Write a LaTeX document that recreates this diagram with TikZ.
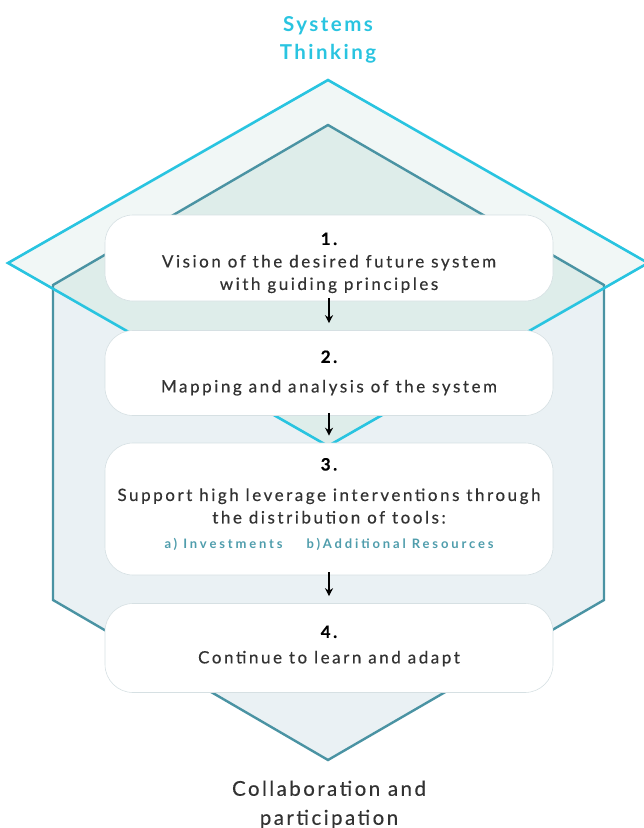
\documentclass[tikz,border=0pt]{standalone}
\usepackage{fontspec}
\setmainfont{Lato}
\usetikzlibrary{arrows.meta,positioning}
\newcommand{\stepnum}[1]{{\bfseries\color{black}#1}}

\begin{document}
\begin{tikzpicture}[x=1pt,y=-1pt]

% ------------------------------------------------ systems theme colors
\definecolor{st_cyan}{RGB}{41,196,224}    %#29C4E0
\definecolor{st_teal}{RGB}{74,147,163}    %#4A93A3
\definecolor{st_pale}{RGB}{241,247,246}   %#F1F7F6
\definecolor{st_house}{RGB}{234,241,244}  %#EAF1F4
\definecolor{st_mix}{RGB}{222,237,234}    %#DEEDEA
\definecolor{st_edge}{RGB}{214,224,227}   %#D6E0E3
\definecolor{st_text}{RGB}{50,50,50}      %#323232
\definecolor{st_sub}{RGB}{79,157,172}     %#4F9DAC

\tikzset{
  stepbox/.style={draw=st_edge,line width=0.6pt,fill=white,rounded corners=28pt,
    minimum width=448pt,inner sep=0pt,align=center,text=st_text,
    font=\fontsize{17}{22.5}\selectfont\addfontfeatures{LetterSpace=15,FakeBold=0.4}},
  flow/.style={line width=1.1pt,-{Stealth[length=8pt,width=8pt]},shorten <=-3pt,shorten >=7pt}
}

\useasboundingbox (0,0) rectangle (644,828);

% diamond and house
\fill[st_pale] (328,80) -- (8,263) -- (328,446) -- (648,263) -- cycle;
\fill[st_house] (328,125) -- (53,285) -- (53,600) -- (328,760) -- (604,600) -- (604,285) -- cycle;
\begin{scope}
  \clip (328,125) -- (53,285) -- (53,600) -- (328,760) -- (604,600) -- (604,285) -- cycle;
  \fill[st_mix] (328,80) -- (8,263) -- (328,446) -- (648,263) -- cycle;
\end{scope}
\draw[st_teal,line width=2.4pt,line join=miter] (328,125) -- (53,285) -- (53,600) -- (328,760) -- (604,600) -- (604,285) -- cycle;
\draw[st_cyan,line width=2.6pt,line join=miter] (328,80) -- (8,263) -- (328,446) -- (648,263) -- cycle;

% titles
\node[text=st_cyan,align=center,font=\fontsize{20.5}{28}\selectfont\bfseries\addfontfeatures{LetterSpace=12}] (sys) at (328,39.5) {Systems\\Thinking};
\node[text=st_text,align=center,font=\fontsize{20.5}{29}\selectfont\addfontfeatures{LetterSpace=12,FakeBold=0.3}] (col) at (329,804.5) {Collaboration and\\participation};

% steps
\node[stepbox,minimum height=86pt] (b1) at (329,258)
  {\stepnum{1.}\rule{0pt}{22pt}\\Vision of the desired future system\\with guiding principles};
\node[stepbox,minimum height=85pt] (b2) at (329,373)
  {\stepnum{2.}\\[7pt]Mapping and analysis of the system};
\node[stepbox,minimum height=132pt] (b3) at (329,509)
  {\stepnum{3.}\\[8pt]Support high leverage interventions through\\the distribution of tools:\\[3pt]
   {\color{st_sub}\fontsize{13}{15}\selectfont\bfseries\addfontfeatures{LetterSpace=22,FakeBold=0} a) Investments\hspace{24pt}b)Additional Resources}\rule[-11pt]{0pt}{0pt}};
\node[stepbox,minimum height=89pt] (b4) at (329,648)
  {\stepnum{4.}\\[3pt]Continue to learn and adapt\rule[-7pt]{0pt}{0pt}};

\draw[flow] (b1) -- (b2);
\draw[flow] (b2) -- (b3);
\draw[flow] (b3) -- (b4);

\end{tikzpicture}
\end{document}
